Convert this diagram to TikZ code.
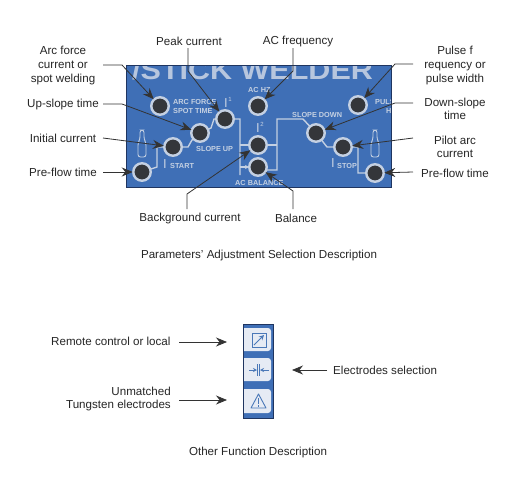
\documentclass[tikz,border=0pt]{standalone}
\usepackage{fontspec}
\setmainfont{Liberation Sans}
\usetikzlibrary{calc,arrows.meta}
\definecolor{panelblue}{HTML}{3F6FB6}
\definecolor{paneledge}{HTML}{1F3560}
\definecolor{printpale}{HTML}{C4D0E2}
\definecolor{knobdark}{HTML}{34363A}
\definecolor{leadergray}{HTML}{333333}
\definecolor{keypale}{HTML}{E6EBF4}
\definecolor{iconblue}{HTML}{4A78B8}
\tikzset{
  knob/.style={circle, draw=printpale, fill=knobdark, line width=2.4pt, minimum size=17.5pt, inner sep=0pt, outer sep=0.5pt},
  lbl/.style={font=\fontsize{11.6}{13.6}\selectfont, text=black!85, align=center, inner sep=0pt},
  printed/.style={font=\bfseries\fontsize{7.3}{8}\selectfont, text=printpale, inner sep=0pt, anchor=west},
  bigI/.style={font=\fontsize{13}{13}\selectfont, text=printpale, inner sep=0pt},
  smallsup/.style={font=\fontsize{6}{6}\selectfont, text=printpale, inner sep=0pt},
  leader/.style={leadergray, line width=0.8pt, -{Stealth[length=11pt,width=9pt]}},
  trace/.style={printpale, line width=1.4pt},
  keypad/.style={fill=keypale, rounded corners=3pt, inner sep=0pt},
  icon/.style={iconblue, line width=0.9pt}
}
\begin{document}
\begin{tikzpicture}[x=1pt, y=-1pt]
  \useasboundingbox (0, 0) rectangle (527, 480);
  \fill[white] (0, 0) rectangle (527, 480);

  % Welder front panel
  \fill[panelblue] (126, 65) rectangle (391, 187);
  \begin{scope}
    \clip (126, 65) rectangle (391, 187);
    \node[font=\bfseries\fontsize{27}{27}\selectfont, text=printpale!90!panelblue, inner sep=0pt, anchor=base west, xscale=1.13] (brand) at (132, 79) {/STICK WELDER};
    \node[printed] (pulsetext) at (375, 102) {PULSE};
    \node[printed] (hztext) at (386, 111) {Hz};
  \end{scope}
  \draw[paneledge, line width=0.6pt] (126, 65) rectangle (391, 187);

  % Printed circuit lines
  \draw[trace] (142, 172) -- (157, 167) -- (157, 147) -- (173, 147) -- (188, 147) -- (192, 140) -- (200, 133) -- (211, 128) -- (214, 119) -- (225, 119) -- (240, 119) -- (240, 175);
  \draw[trace] (240, 145) -- (258, 145);
  \draw[trace, -{Stealth[length=4pt,width=4pt]}] (240, 167) -- (249, 167);
  \draw[trace] (258, 145) -- (277, 145);
  \draw[trace] (258, 170) -- (277, 170) -- (277, 119) -- (303, 119) -- (316, 133) -- (327, 147) -- (343, 147) -- (358, 147) -- (358, 173) -- (375, 173);

  % Gas bottles
  \foreach \gx in {142, 375} {
    \draw[printpale, line width=0.9pt, rounded corners=2.5pt] (\gx-4, 157) -- (\gx-4, 143) -- (\gx-2, 139) -- (\gx-2, 130) -- (\gx+2, 130) -- (\gx+2, 139) -- (\gx+4, 143) -- (\gx+4, 157) -- cycle;
  }

  % Knobs
  \node[knob] (arcknob) at (160, 106) {};
  \node[knob] (peakknob) at (225, 119) {};
  \node[knob] (upknob) at (200, 133) {};
  \node[knob] (startknob) at (173, 147) {};
  \node[knob] (preleftknob) at (142, 172) {};
  \node[knob] (freqknob) at (258, 106) {};
  \node[knob] (backknob) at (258, 145) {};
  \node[knob] (balknob) at (258, 167) {};
  \node[knob] (pulseknob) at (358, 105) {};
  \node[knob] (downknob) at (316, 133) {};
  \node[knob] (stopknob) at (343, 147) {};
  \node[knob] (prerightknob) at (375, 173) {};

  % Printed panel words
  \node[printed] (arctext) at (173, 102) {ARC FORCE};
  \node[printed] (spottext) at (173, 110.5) {SPOT TIME};
  \node[bigI] (ionetext) at (226, 103) {I};
  \node[smallsup] (ionesup) at (230, 99) {1};
  \node[printed] (uptext) at (196, 148.5) {SLOPE UP};
  \node[bigI] (startI) at (165, 164) {I};
  \node[printed] (starttext) at (170, 165.5) {START};
  \node[printed] (hzname) at (248, 90) {AC HZ};
  \node[bigI] (itwotext) at (258, 128) {I};
  \node[smallsup] (itwosup) at (262, 124) {2};
  \node[printed] (baltext) at (235, 183) {AC BALANCE};
  \node[printed] (downtext) at (292, 114.5) {SLOPE DOWN};
  \node[bigI] (stopI) at (333, 163) {I};
  \node[printed] (stoptext) at (337, 165.5) {STOP};

  % Labels
  \node[lbl] (arclbl) at (63, 65.5) {Arc force\\current or\\spot welding};
  \node[lbl] (uplbl) at (63, 104) {Up-slope time};
  \node[lbl] (startlbl) at (63, 138) {Initial current};
  \node[lbl] (preleftlbl) at (63, 172.5) {Pre-flow time};
  \node[lbl] (peaklbl) at (189, 41) {Peak current};
  \node[lbl] (freqlbl) at (298, 41.5) {AC frequency};
  \node[lbl] (pulselbl) at (455, 65.5) {Pulse f\\requency or\\pulse width};
  \node[lbl] (downlbl) at (455, 109) {Down-slope\\time};
  \node[lbl] (pilotlbl) at (455, 147) {Pilot arc\\current};
  \node[lbl] (prerightlbl) at (455, 173) {Pre-flow time};
  \node[lbl] (backlbl) at (190, 218) {Background current};
  \node[lbl] (ballbl) at (296, 218) {Balance};
  \node[lbl] (paramlbl) at (259, 255) {Parameters' Adjustment Selection Description};

  % Leaders
  \coordinate (arcstart) at (103, 65);
  \coordinate (arcbend) at (122, 65);
  \coordinate (upstart) at (103, 104);
  \coordinate (upbend) at (122, 104);
  \coordinate (startstart) at (103, 138);
  \coordinate (preleftstart) at (103, 172);
  \coordinate (peakstart) at (188, 48);
  \coordinate (peakbend) at (188, 71);
  \coordinate (freqstart) at (293, 48);
  \coordinate (freqbend) at (293, 71);
  \coordinate (pulsestart) at (413, 64);
  \coordinate (pulsebend) at (395, 64);
  \coordinate (downstart) at (413, 103);
  \coordinate (downbend) at (395, 103);
  \coordinate (pilotstart) at (413, 138);
  \coordinate (prerightstart) at (413, 172);
  \coordinate (backstart) at (187, 209);
  \coordinate (backbend) at (187, 194);
  \coordinate (balstart) at (293, 209);
  \coordinate (balbend) at (293, 191);
  \draw[leader] (arcstart) -- (arcbend) -- (arcknob);
  \draw[leader] (upstart) -- (upbend) -- (upknob);
  \draw[leader] (startstart) -- (startknob);
  \draw[leader] (preleftstart) -- (preleftknob);
  \draw[leader] (peakstart) -- (peakbend) -- (peakknob);
  \draw[leader] (freqstart) -- (freqbend) -- (freqknob);
  \draw[leader] (pulsestart) -- (pulsebend) -- (pulseknob);
  \draw[leader] (downstart) -- (downbend) -- (downknob);
  \draw[leader] (pilotstart) -- (stopknob);
  \draw[leader] (prerightstart) -- (prerightknob);
  \draw[leader] (backstart) -- (backbend) -- (backknob);
  \draw[leader] (balstart) -- (balbend) -- (balknob);

  % Function keys
  \fill[panelblue] (243, 324) rectangle (273, 418);
  \begin{scope}
    \clip (243, 324) rectangle (273, 418);
    \node[keypad, minimum width=33pt, minimum height=23pt] (remotekey) at (254.5, 339.5) {};
    \node[keypad, minimum width=33pt, minimum height=23pt] (electrodekey) at (254.5, 369.5) {};
    \node[keypad, minimum width=33pt, minimum height=24pt] (tungstenkey) at (254.5, 401) {};
  \end{scope}
  \draw[paneledge, line width=0.5pt] (243, 324) rectangle (273, 418);
  \draw[icon] (252, 333) rectangle (266, 347);
  \draw[icon, -{Stealth[length=5pt,width=5pt]}] (254, 345) -- (264, 335);
  \draw[icon, -{Stealth[length=4pt,width=4pt]}] (249, 370) -- (257, 370);
  \draw[icon, -{Stealth[length=4pt,width=4pt]}] (269, 370) -- (260, 370);
  \draw[icon] (257.5, 364) -- (257.5, 376) (259.5, 364) -- (259.5, 376);
  \draw[icon, line join=round] (258.5, 394) -- (251, 408) -- (266, 408) -- cycle;
  \draw[icon] (258.5, 398) -- (258.5, 404) (258.5, 405) -- (258.5, 406.5);

  \node[lbl, anchor=west] (remotelbl) at (51, 341.5) {Remote control or local};
  \node[lbl, anchor=west] (electrodelbl) at (333, 370) {Electrodes selection};
  \node[lbl, align=right, anchor=east] (tungstenlbl) at (171, 399) {Unmatched\\Tungsten electrodes};
  \node[lbl] (otherlbl) at (258, 452) {Other Function Description};

  \coordinate (remotetip) at (227, 342);
  \coordinate (electrodetip) at (292, 370);
  \coordinate (tungstentip) at (227, 400);
  \coordinate (remotestart) at (179, 342);
  \coordinate (electrodestart) at (327, 370);
  \coordinate (tungstenstart) at (179, 400);
  \draw[leader] (remotestart) -- (remotetip);
  \draw[leader] (electrodestart) -- (electrodetip);
  \draw[leader] (tungstenstart) -- (tungstentip);

\end{tikzpicture}
\end{document}
